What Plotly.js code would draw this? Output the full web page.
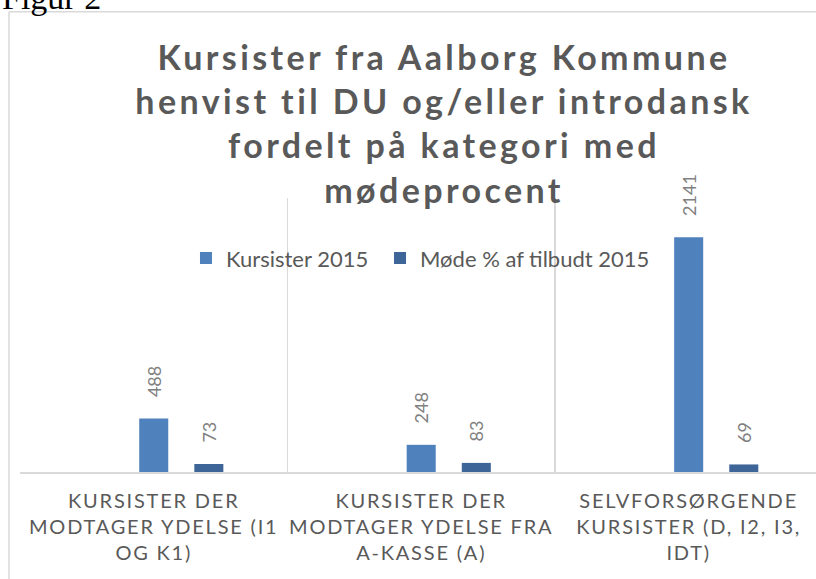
<!DOCTYPE html>
<html>
<head>
<meta charset="utf-8">
<script src="https://cdn.plot.ly/plotly-3.0.1.min.js"></script>
<style>
  html, body { margin: 0; padding: 0; background: #ffffff; }
  #chart { width: 816px; height: 579px; }
  .gtitle { letter-spacing: 3.4px; }
  .xtick text { letter-spacing: 1.8px; }
</style>
</head>
<body>
<div id="chart"></div>
<script>
// ---- data ----
const categories = [
  "KURSISTER DER<br>MODTAGER YDELSE (I1<br>OG K1)",
  "KURSISTER DER<br>MODTAGER YDELSE FRA<br>A-KASSE (A)",
  "SELVFORSØRGENDE<br>KURSISTER (D, I2, I3,<br>IDT)"
];
const emptySeries = [null, null, null];
const kursister2015 = [488, 248, 2141];
const modeProcent2015 = [73, 83, 69];
const seriesNames = ["Kursister 2015", "Møde % af tilbudt 2015"];
const chartTitle = "Kursister fra Aalborg Kommune<br>henvist til DU og/eller introdansk<br>fordelt på kategori med<br>mødeprocent";
const figureLabel = "Figur 2";

const labelFont = { family: "Lato, sans-serif", size: 18, color: "#808080" };
const pad = "\u00a0\u00a0\u00a0\u00a0";
const legendFont = { family: "Lato, sans-serif", size: 22, color: "#595959" };

const traces = [
  { type: "bar", x: categories, y: emptySeries, name: "", showlegend: false, hoverinfo: "skip",
    marker: { color: "#a5a5a5" } },
  { type: "bar", x: categories, y: kursister2015, name: seriesNames[0], legend: "legend",
    marker: { color: "#4f81bd" },
    texttemplate: pad + "%{y}", textposition: "outside", textangle: -90,
    constraintext: "none", cliponaxis: false, textfont: labelFont },
  { type: "bar", x: categories, y: modeProcent2015, name: seriesNames[1], legend: "legend2",
    marker: { color: "#3d6598" },
    texttemplate: pad + "%{y}", textposition: "outside", textangle: -90,
    constraintext: "none", cliponaxis: false, textfont: labelFont }
];

const layout = {
  width: 816, height: 579,
  margin: { l: 20, r: 0, t: 198, b: 107, pad: 0 },
  paper_bgcolor: "rgba(0,0,0,0)",
  plot_bgcolor: "rgba(0,0,0,0)",
  barmode: "group",
  bargap: 0.382,
  bargroupgap: 0.473,
  font: { family: "Lato, sans-serif", color: "#595959" },
  title: {
    text: chartTitle,
    font: { family: "Lato, sans-serif", size: 34, weight: 700, color: "#595959" },
    xref: "container", x: 444 / 816, xanchor: "center",
    yref: "container", y: 1 - 70 / 579, yanchor: "top"
  },
  xaxis: {
    type: "category",
    range: [-0.5, 2.476],
    tickson: "boundaries",
    showgrid: true, gridcolor: "#d9d9d9", gridwidth: 1.5,
    showline: true, linecolor: "#d9d9d9", linewidth: 1.5,
    ticks: "",
    ticklabelstandoff: 10,
    tickfont: { family: "Lato, sans-serif", size: 20, color: "#595959" },
    fixedrange: true
  },
  yaxis: {
    range: [0, 2500],
    showgrid: false, zeroline: false, showline: false,
    showticklabels: false, ticks: "",
    fixedrange: true
  },
  legend: {
    orientation: "h",
    x: 0.2085, xanchor: "left",
    y: 0.78, yanchor: "middle",
    bgcolor: "rgba(0,0,0,0)",
    font: legendFont,
    itemclick: false, itemdoubleclick: false
  },
  legend2: {
    orientation: "h",
    x: 0.4523, xanchor: "left",
    y: 0.78, yanchor: "middle",
    bgcolor: "rgba(0,0,0,0)",
    font: legendFont,
    itemclick: false, itemdoubleclick: false
  },
  shapes: [
    { type: "line", xref: "paper", yref: "paper", x0: -11 / 796, x1: 1.2, y0: 1 + 186 / 273.5, y1: 1 + 186 / 273.5,
      line: { color: "#d9d9d9", width: 1.5 } },
    { type: "line", xref: "paper", yref: "paper", x0: -11 / 796, x1: -11 / 796, y0: 1 + 186 / 273.5, y1: -0.6,
      line: { color: "#d9d9d9", width: 1.5 } }
  ],
  annotations: [
    { text: figureLabel, xref: "paper", yref: "paper", x: -20 / 796, y: 1 + 186 / 273.5,
      xanchor: "left", yanchor: "bottom", showarrow: false, yshift: -6,
      font: { family: "Liberation Serif, serif", size: 34, color: "#000000" } }
  ],
  showlegend: true
};

Plotly.newPlot("chart", traces, layout, { displayModeBar: false, staticPlot: true });
</script>
</body>
</html>
